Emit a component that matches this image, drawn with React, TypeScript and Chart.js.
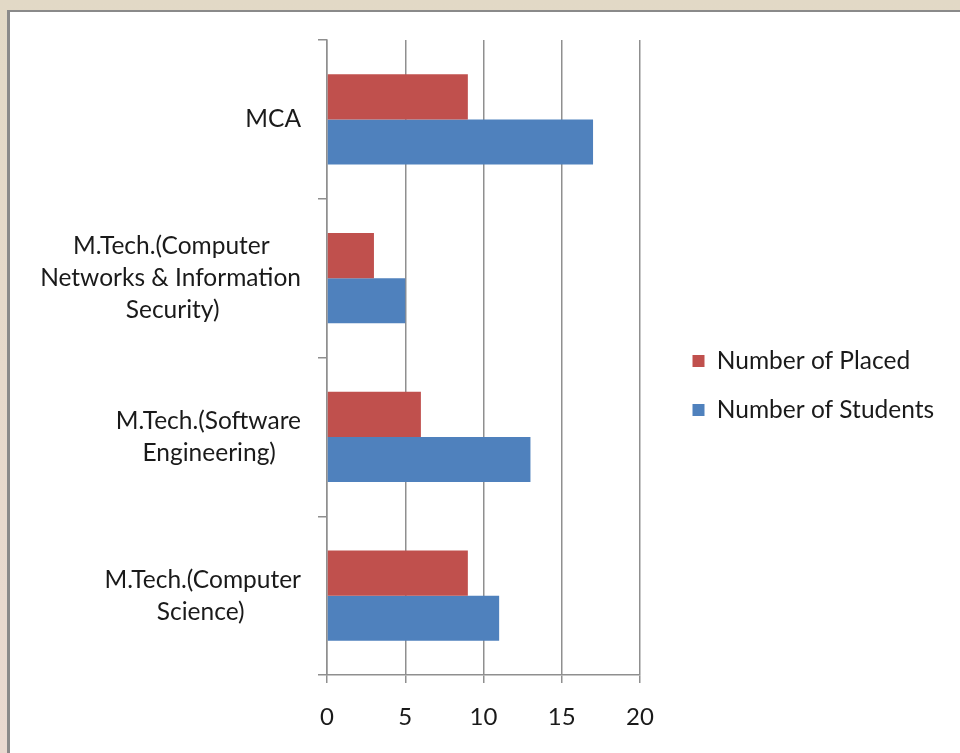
import React, { useEffect, useRef } from "react";
import { Chart, registerables } from "chart.js";

Chart.register(...registerables);

const categoryLines: string[][] = [
  ["MCA"],
  ["M.Tech.(Computer", "Networks & Information", "Security)"],
  ["M.Tech.(Software", "Engineering)"],
  ["M.Tech.(Computer", "Science)"],
];
const placedValues = [9, 3, 6, 9];
const studentValues = [17, 5, 13, 11];
const seriesNames = ["Number of Placed", "Number of Students"];
const seriesColors = ["#C0504D", "#4F81BD"];
const xMin = 0;
const xMax = 20;
const xStep = 5;

const FAMILY = "Lato, 'Open Sans', sans-serif";
const CAT_SIZE = 24.5;
const LEG_SIZE = 24.5;
const GRID = "#8f8f8f";

function centerLines(lines: string[], font: string): string[] {
  const ctx = document.createElement("canvas").getContext("2d")!;
  ctx.font = font;
  const sp = ctx.measureText(" ").width;
  const widths = lines.map((l) => ctx.measureText(l).width);
  const max = Math.max(...widths);
  return lines.map((l, i) => l + " ".repeat(Math.round((max - widths[i]) / 2 / sp)));
}

const legendWidthPlugin = {
  id: "legendWidth",
  beforeLayout(chart: any) {
    const lg = chart.legend;
    if (lg && !lg.__patched) {
      const orig = lg.fit.bind(lg);
      lg.fit = () => {
        orig();
        lg.width = 292;
      };
      lg.__patched = true;
    }
  },
};

export default function App() {
  const ref = useRef<HTMLCanvasElement | null>(null);

  useEffect(() => {
    if (!ref.current) return;
    const labels = categoryLines.map((lines) =>
      lines.length > 1 ? centerLines(lines, `${CAT_SIZE}px ${FAMILY}`) : lines
    );
    const chart = new Chart(ref.current, {
      type: "bar",
      data: {
        labels,
        datasets: [
          {
            label: seriesNames[0],
            data: placedValues,
            backgroundColor: seriesColors[0],
            borderWidth: 0,
            categoryPercentage: 0.567,
            barPercentage: 1,
          },
          {
            label: seriesNames[1],
            data: studentValues,
            backgroundColor: seriesColors[1],
            borderWidth: 0,
            categoryPercentage: 0.567,
            barPercentage: 1,
          },
        ],
      },
      options: {
        indexAxis: "y",
        responsive: false,
        animation: false,
        devicePixelRatio: 1,
        layout: { padding: { top: 40, bottom: 22, left: 0, right: 0 } },
        plugins: {
          tooltip: { enabled: false },
          legend: {
            position: "right",
            align: "center",
            labels: {
              boxWidth: 12,
              boxHeight: 12,
              padding: 49 - LEG_SIZE,
              color: "#1a1a1a",
              font: { family: FAMILY, size: LEG_SIZE },
            },
          },
        },
        scales: {
          x: {
            type: "linear",
            position: "bottom",
            min: xMin,
            max: xMax,
            ticks: {
              stepSize: xStep,
              color: "#1a1a1a",
              padding: 20,
              font: { family: FAMILY, size: 24 },
            },
            grid: {
              color: GRID,
              lineWidth: 1.5,
              tickLength: 8,
              drawOnChartArea: true,
            },
            border: { color: GRID, width: 1.5 },
            afterFit: (s: any) => {
              s.height = 56;
              s.paddingLeft = 0;
              s.paddingRight = 0;
            },
          },
          y: {
            type: "category",
            position: "left",
            ticks: {
              color: "#1a1a1a",
              padding: 17,
              crossAlign: "near",
              font: { family: FAMILY, size: CAT_SIZE, lineHeight: 32 / CAT_SIZE },
            },
            grid: {
              color: GRID,
              lineWidth: 1.5,
              tickLength: 9,
              drawOnChartArea: false,
              offset: true,
            },
            border: { color: GRID, width: 1.5 },
            afterFit: (s: any) => {
              s.width = 327;
              s.paddingTop = 0;
              s.paddingBottom = 0;
            },
          },
          yr: {
            type: "category",
            position: "right",
            display: true,
            ticks: { display: false },
            grid: { display: false },
            border: { display: false },
            afterFit: (s: any) => {
              s.width = 28;
              s.paddingTop = 0;
              s.paddingBottom = 0;
            },
          },
        },
      } as any,
      plugins: [legendWidthPlugin],
    });
    return () => chart.destroy();
  }, []);

  return (
    <div
      style={{
        position: "fixed",
        left: 0,
        top: 0,
        width: 960,
        height: 753,
        background: "linear-gradient(180deg, #E2D9C6 0%, #E6D9CB 50%, #E9D9D0 100%)",
        overflow: "hidden",
      }}
    >
      <div
        style={{
          position: "absolute",
          left: 7,
          top: 10,
          right: 0,
          bottom: 0,
          background: "#ffffff",
          borderTop: "2px solid #8a8a8a",
          borderLeft: "3px solid #8a8a8a",
        }}
      />
      <canvas
        ref={ref}
        width={960}
        height={753}
        style={{ position: "absolute", left: 0, top: 0, width: 960, height: 753 }}
      />
    </div>
  );
}
